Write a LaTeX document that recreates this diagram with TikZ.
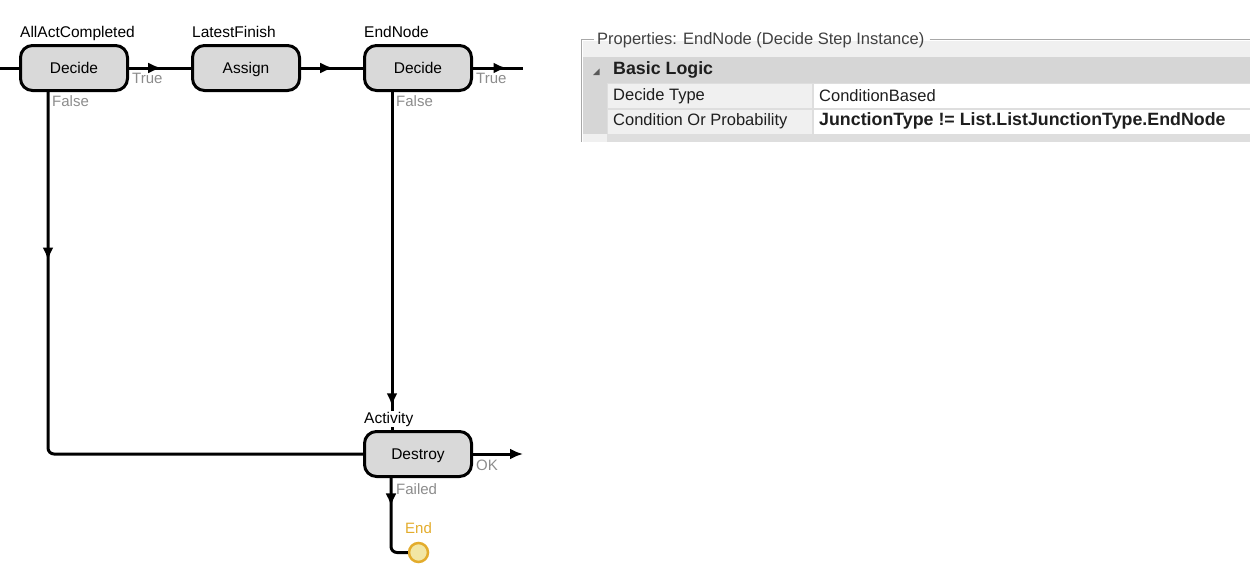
\documentclass[tikz,border=0pt]{standalone}
\usepackage{fontspec}
\setmainfont{Liberation Sans}
\usetikzlibrary{arrows.meta,decorations.markings,positioning}
\definecolor{boxgray}{HTML}{D9D9D9}
\definecolor{lblgray}{HTML}{8C8C8C}
\definecolor{endgold}{HTML}{E3AC2C}
\definecolor{endfill}{HTML}{F2E6A4}
\definecolor{hdrgray}{HTML}{D6D6D6}
\definecolor{cellgray}{HTML}{F0F0F0}
\definecolor{lowgray}{HTML}{DEDEDE}
\definecolor{framegray}{HTML}{A8A8A8}
\definecolor{paneltext}{HTML}{1E1E1E}
\tikzset{>={Latex[length=13pt,width=11pt]}}
\tikzset{stepbox/.style={draw, line width=3pt, rounded corners=12pt, fill=boxgray, minimum width=107pt, minimum height=45pt, inner sep=0pt, text height=11pt, text depth=1pt, font=\fontsize{15.5}{18}\selectfont}}
\tikzset{stepname/.style={anchor=base west, inner sep=1pt, fill=white, xshift=0pt, font=\fontsize{15.5}{18}\selectfont}}
\tikzset{exitlbl/.style={anchor=base west, inner sep=0pt, text=lblgray, font=\fontsize{15}{18}\selectfont}}
\tikzset{endstep/.style={circle, draw=endgold, fill=endfill, line width=2.5pt, minimum size=19pt, inner sep=0pt}}
\tikzset{flow/.style={line width=3pt}}
\tikzset{midarrow/.style={postaction={decorate}, decoration={markings, mark=at position #1 with {\arrow{>}}}}}
\tikzset{paneltxt/.style={anchor=west, inner sep=0pt, text=paneltext, font=\fontsize{16.5}{19}\selectfont}}
\tikzset{panelbold/.style={anchor=west, inner sep=0pt, text=paneltext, font=\fontsize{17.8}{20}\selectfont\bfseries}}

\begin{document}
\begin{tikzpicture}[x=1pt,y=-1pt]
  \useasboundingbox (0,0) rectangle (1250,568);
  \node[stepbox] (dec1) at (74,68) {Decide};
  \node[stepbox] (asg) at (246,68) {Assign};
  \node[stepbox] (dec2) at (418,68) {Decide};
  \node[stepbox] (destroy) at (418,454) {Destroy};
  \node[endstep] (endc) at (418.5,552.5) {};
  \coordinate (in) at (0,68);
  \coordinate (out1) at (523,68);
  \coordinate (out2) at (523,454);
  \draw[flow] (in) -- (dec1.west);
  \draw[flow, midarrow=0.52] (dec1.east) -- (asg.west);
  \draw[flow, midarrow=0.52] (asg.east) -- (dec2.west);
  \draw[flow, midarrow=0.67] (dec2.east) -- (out1);
  \draw[flow, midarrow=0.25, rounded corners=6pt] ([xshift=-26pt]dec1.south) |- (destroy.west);
  \draw[flow, midarrow=0.93] ([xshift=-26pt]dec2.south) -- ([xshift=-26pt]destroy.north);
  \draw[flow, ->] (destroy.east) -- (out2);
  \draw[flow, midarrow=0.32, rounded corners=6pt] ([xshift=-27pt]destroy.south) |- (endc.west);
  \node[stepname] (n1) at ([yshift=7pt]dec1.north west) {AllActCompleted};
  \node[stepname] (n2) at ([yshift=7pt]asg.north west) {LatestFinish};
  \node[stepname] (n3) at ([yshift=7pt]dec2.north west) {EndNode};
  \node[stepname] (n4) at ([yshift=7pt]destroy.north west) {Activity};
  \node[exitlbl] (t1) at ([xshift=3pt,yshift=-15pt]dec1.east) {True};
  \node[exitlbl] (f1) at ([xshift=-22pt,yshift=-14pt]dec1.south) {False};
  \node[exitlbl] (t2) at ([xshift=3pt,yshift=-15pt]dec2.east) {True};
  \node[exitlbl] (f2) at ([xshift=-22pt,yshift=-14pt]dec2.south) {False};
  \node[exitlbl] (ok) at ([xshift=3pt,yshift=-16pt]destroy.east) {OK};
  \node[exitlbl] (fl) at ([xshift=-22pt,yshift=-16pt]destroy.south) {Failed};
  \node[exitlbl, anchor=base, text=endgold] (el) at ([yshift=8pt]endc.north) {End};
  \fill[cellgray] (583,41) rectangle (1250,142);
  \fill[hdrgray] (583,57) rectangle (1250,83);
  \fill[hdrgray] (583,83) rectangle (607,134);
  \fill[lowgray] (607,83) rectangle (1250,142);
  \fill[cellgray] (608,84) rectangle (812,108);
  \fill[cellgray] (608,109.5) rectangle (812,133.5);
  \fill[white] (814,84) rectangle (1250,108);
  \fill[white] (814,109.5) rectangle (1250,133.5);
  \fill[black!65] (593,75) -- (599.5,75) -- (599.5,68.5) -- cycle;
  \coordinate (fr) at (1250,39);
  \node[paneltxt, text=black!75] (ptitle) at (597,40) {Properties: EndNode (Decide Step Instance)};
  \draw[framegray, line width=1pt] ([xshift=-3pt]ptitle.west |- fr) -- (581,39) -- (581,142);
  \draw[framegray, line width=1pt] ([xshift=5pt]ptitle.east |- fr) -- (fr);
  \node[panelbold] (phdr) at (613,70) {Basic Logic};
  \node[paneltxt] (plbl1) at (613,96) {Decide Type};
  \node[paneltxt] (pval1) at (819,96) {ConditionBased};
  \node[paneltxt] (plbl2) at (613,121) {Condition Or Probability};
  \node[panelbold] (pval2) at (819,121) {JunctionType != List.ListJunctionType.EndNode};
\end{tikzpicture}
\end{document}
